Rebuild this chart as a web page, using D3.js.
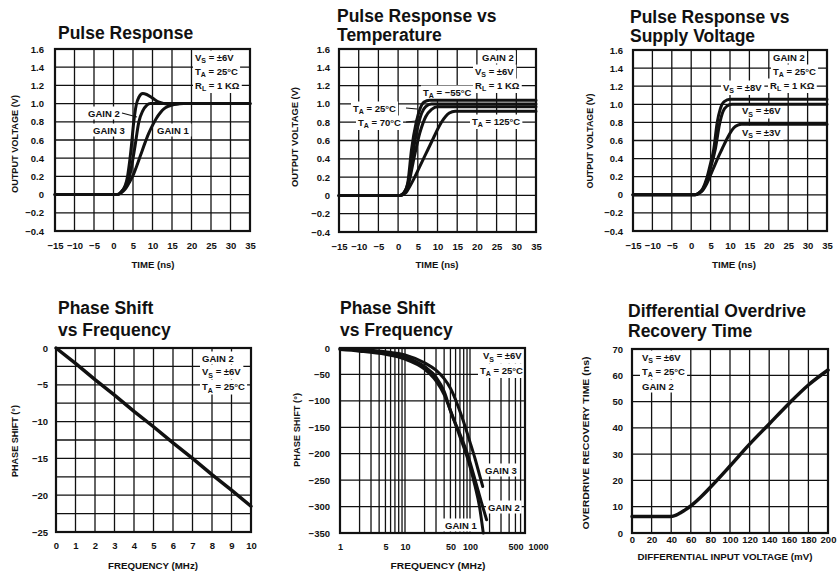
<!DOCTYPE html>
<html>
<head>
<meta charset="utf-8">
<script src="https://cdn.jsdelivr.net/npm/d3@7"></script>
<style>
  html, body { margin: 0; padding: 0; background: #fff; }
  svg { display: block; }
  text { font-family: "Liberation Sans", Arial, sans-serif; font-weight: 700; fill: #111; }
</style>
</head>
<body>
<script>
"use strict";

// ---------- Data ----------
// Pulse response panels (time in ns, output in V)
let pulseTimeTicks = [-15, -10, -5, 0, 5, 10, 15, 20, 25, 30, 35];
let pulseVoltTicks = [-0.4, -0.2, 0, 0.2, 0.4, 0.6, 0.8, 1.0, 1.2, 1.4, 1.6];

let pulseGain1 = [[-15,0],[1,0],[2,0.02],[3,0.06],[4,0.13],[5,0.21],[6,0.32],[7,0.44],[8,0.56],[9,0.67],[10,0.76],[11,0.84],[12,0.9],[13,0.945],[14,0.97],[15,0.985],[17,0.998],[18,1.0],[35,1.0]];
let pulseGain2 = [[-15,0],[1,0],[2,0.03],[3,0.09],[4.1,0.2],[5.4,0.5],[6.5,0.8],[7.5,0.92],[8.5,0.98],[9.5,1.0],[35,1.0]];
let pulseGain3 = [[-15,0],[1,0],[2,0.03],[3,0.1],[3.6,0.2],[4.1,0.35],[4.5,0.5],[5.2,0.8],[5.8,0.98],[6.5,1.07],[7.5,1.11],[8.5,1.1],[10,1.06],[11.5,1.02],[13,1.0],[15,0.99],[17,1.0],[35,1.0]];

let tempM55 = [[-15,0],[0.5,0],[1.5,0.03],[2.5,0.15],[3.4,0.5],[4.6,0.8],[5.6,0.95],[6.6,1.02],[8,1.04],[35,1.04]];
let temp25  = [[-15,0],[0.5,0],[1.5,0.03],[2.5,0.13],[3.7,0.45],[5,0.75],[6,0.9],[7,0.97],[8.5,1.0],[35,1.0]];
let temp70  = [[-15,0],[0.5,0],[1.5,0.02],[2.5,0.1],[4,0.4],[5.5,0.68],[7,0.86],[8.5,0.94],[10,0.97],[35,0.97]];
let temp125 = [[-15,0],[0.5,0],[2,0.03],[3,0.1],[4,0.18],[5,0.27],[6,0.36],[7,0.45],[8,0.54],[9,0.63],[10,0.72],[11,0.8],[12,0.86],[13,0.9],[14.5,0.92],[35,0.92]];

let supply8 = [[-15,0],[1,0],[2,0.02],[3,0.07],[4,0.18],[5,0.35],[5.8,0.5],[6.7,0.8],[7.5,0.95],[8.5,1.03],[10,1.055],[35,1.055]];
let supply6 = [[-15,0],[1,0],[2,0.02],[3,0.06],[4,0.16],[5,0.3],[6.2,0.5],[7.3,0.78],[8.2,0.92],[9.2,0.98],[10.5,1.0],[35,1.0]];
let supply3 = [[-15,0],[1,0],[2,0.015],[3,0.05],[4,0.12],[5,0.22],[6,0.32],[7,0.42],[8,0.51],[9,0.6],[10,0.68],[11,0.74],[12,0.77],[13,0.78],[35,0.78]];

// Phase shift, linear frequency (MHz, degrees)
let linFreqTicks = [0, 1, 2, 3, 4, 5, 6, 7, 8, 9, 10];
let linPhaseTicks = [0, -5, -10, -15, -20, -25];
let linPhaseGrid = [0, -2.5, -5, -7.5, -10, -12.5, -15, -17.5, -20, -22.5, -25];
let linPhase = [[0,0],[1,-2.1],[2,-4.3],[3,-6.4],[4,-8.6],[5,-10.7],[6,-12.9],[7,-15.0],[8,-17.2],[9,-19.3],[10,-21.5]];

// Phase shift, log frequency (MHz, degrees)
let logFreqTicks = [1, 5, 10, 50, 100, 500, 1000];
let logFreqGrid = [1,2,3,4,5,6,7,8,9,10,20,30,40,50,60,70,80,90,100,200,300,400,500,600];
let logPhaseTicks = [0, -50, -100, -150, -200, -250, -300, -350];
let logGain1 = [[1,-3],[2,-6],[5,-12],[10,-21],[20,-40],[30,-62],[40,-88],[50,-118],[70,-168],[94,-213],[120,-262],[140,-300],[160,-350]];
let logGain2 = [[1,-2],[2,-4],[5,-9],[10,-17],[20,-35],[30,-55],[40,-82],[52,-125],[70,-163],[94,-205],[120,-250],[150,-292],[180,-325]];
let logGain3 = [[1,-1],[2,-3],[5,-7],[10,-13],[20,-28],[30,-42],[40,-58],[50,-76],[75,-130],[100,-178],[120,-210],[140,-240],[157,-262]];

// Differential overdrive recovery (mV, ns)
let odVoltTicks = [0, 20, 40, 60, 80, 100, 120, 140, 160, 180, 200];
let odTimeTicks = [0, 10, 20, 30, 40, 50, 60, 70];
let overdrive = [[0,6.3],[20,6.3],[40,6.3],[45,6.8],[50,7.8],[55,9],[60,10.3],[70,13.6],[80,17.4],[100,25.5],[120,33.8],[140,41.5],[160,49.2],[180,56.3],[200,62]];

// ---------- Canvas ----------
let svg = d3.select("body").append("svg")
  .attr("width", 838)
  .attr("height", 572);

let voltFmt = function(d){ return d === 0 ? "0" : d3.format(".1f")(d); };
let intFmt = d3.format("d");

function addNote(layer, x, y, str) {
  // "V_S" style -> subscript letter
  let t = layer.append("text").attr("x", x).attr("y", y).attr("font-size", 9.5);
  let parts = str.split(/_(.)/);
  parts.forEach(function(s, i){
    if (i % 2 === 1) t.append("tspan").attr("dy", 2.5).attr("font-size", 7).text(s);
    else t.append("tspan").attr("dy", i ? -2.5 : 0).text(s);
  });
  let b = t.node().getBBox();
  layer.insert("rect", function(){ return t.node(); })
    .attr("x", b.x - 2).attr("y", b.y - 1)
    .attr("width", b.width + 4).attr("height", b.height + 2)
    .attr("fill", "#fff");
}

function drawPanel(p) {
  let x = p.x.range(p.xRange || [p.l, p.r]);
  let y = p.y.range([p.b, p.t]);
  let g = svg.append("g");
  let grid = g.append("g"), notes = g.append("g"), marks = g.append("g");

  // grid lines (only those inside the frame)
  let xg = p.xGrid.filter(function(d){ return x(d) <= p.r + 0.5; });
  grid.selectAll(".v").data(xg).enter().append("line")
    .attr("x1", function(d){ return x(d); }).attr("x2", function(d){ return x(d); })
    .attr("y1", p.t).attr("y2", p.b)
    .attr("stroke", "#111").attr("stroke-width", 1.3);
  grid.selectAll(".h").data(p.yGrid).enter().append("line")
    .attr("y1", function(d){ return y(d); }).attr("y2", function(d){ return y(d); })
    .attr("x1", p.l).attr("x2", p.r)
    .attr("stroke", "#111").attr("stroke-width", 1.3);

  // tick labels
  let ax = g.append("g").attr("transform", "translate(0," + p.b + ")")
    .call(d3.axisBottom(x).tickValues(p.xTicks).tickFormat(p.xFmt).tickSize(0).tickPadding(p.xPad));
  ax.select(".domain").remove();
  ax.attr("font-size", p.xFont || 9.5);
  let ay = g.append("g").attr("transform", "translate(" + p.l + ",0)")
    .call(d3.axisLeft(y).tickValues(p.yTicks).tickFormat(p.yFmt).tickSize(0).tickPadding(p.yPad));
  ay.select(".domain").remove();
  ay.attr("font-size", 9.5);
  if (p.lastDx) ax.selectAll(".tick:last-of-type text").attr("dx", p.lastDx);

  // annotations
  p.notes.forEach(function(n){ addNote(notes, n[0], n[1], n[2]); });
  (p.leaders || []).forEach(function(s){
    notes.append("line").attr("x1", s[0]).attr("y1", s[1]).attr("x2", s[2]).attr("y2", s[3])
      .attr("stroke", "#111").attr("stroke-width", 1.2);
  });

  // curves
  let line = d3.line()
    .x(function(d){ return x(d[0]); })
    .y(function(d){ return y(d[1]); })
    .curve(p.curve || d3.curveMonotoneX);
  p.series.forEach(function(s){
    marks.append("path").attr("d", line(s))
      .attr("fill", "none").attr("stroke", "#111")
      .attr("stroke-width", p.lw || 3).attr("stroke-linejoin", "round").attr("stroke-linecap", "round");
  });

  // frame
  g.append("rect").attr("x", p.l).attr("y", p.t)
    .attr("width", p.r - p.l).attr("height", p.b - p.t)
    .attr("fill", "none").attr("stroke", "#111").attr("stroke-width", 2.2);

  // titles
  p.title.forEach(function(tl, i){
    g.append("text").attr("x", p.titleX).attr("y", p.titleY[i]).attr("font-size", 17.5).text(tl);
  });

  // axis titles
  g.append("text").attr("x", p.xt[0]).attr("y", p.xt[1])
    .attr("text-anchor", "middle").attr("font-size", 9)
    .attr("textLength", p.xt[2]).attr("lengthAdjust", "spacingAndGlyphs")
    .text(p.xLabel);
  g.append("text")
    .attr("transform", "translate(" + p.yt[0] + "," + p.yt[1] + ") rotate(-90)")
    .attr("text-anchor", "middle").attr("dy", "0.35em").attr("font-size", 9)
    .attr("textLength", p.yt[2]).attr("lengthAdjust", "spacingAndGlyphs")
    .text(p.yLabel);
}

// ---------- Panels ----------
drawPanel({
  l: 55, r: 250, t: 49, b: 231,
  x: d3.scaleLinear().domain([-15, 35]), y: d3.scaleLinear().domain([-0.4, 1.6]),
  xGrid: pulseTimeTicks, yGrid: pulseVoltTicks, xTicks: pulseTimeTicks, yTicks: pulseVoltTicks,
  xFmt: intFmt, yFmt: voltFmt, xPad: 11, yPad: 11,
  series: [pulseGain1, pulseGain2, pulseGain3],
  notes: [[195, 60.5, "V_S = ±6V"], [195, 74.5, "T_A = 25°C"], [195, 88.5, "R_L = 1 KΩ"],
          [88, 116.5, "GAIN 2"], [93, 133.5, "GAIN 3"], [157, 133.5, "GAIN 1"]],
  leaders: [[122, 113, 137, 117]],
  title: ["Pulse Response"], titleX: 58, titleY: [39],
  xLabel: "TIME (ns)", xt: [153, 268, 43],
  yLabel: "OUTPUT VOLTAGE (V)", yt: [15, 144, 98]
});

drawPanel({
  l: 339, r: 536, t: 49, b: 232,
  x: d3.scaleLinear().domain([-15, 35]), y: d3.scaleLinear().domain([-0.4, 1.6]),
  xGrid: pulseTimeTicks, yGrid: pulseVoltTicks, xTicks: pulseTimeTicks, yTicks: pulseVoltTicks,
  xFmt: intFmt, yFmt: voltFmt, xPad: 11, yPad: 9,
  series: [tempM55, temp25, temp70, temp125],
  notes: [[482, 60.5, "GAIN 2"], [475, 74.5, "V_S = ±6V"], [475, 88.5, "R_L = 1 KΩ"],
          [423, 95.5, "T_A = −55°C"], [353, 111.5, "T_A = 25°C"], [358, 125.5, "T_A = 70°C"],
          [472, 124.5, "T_A = 125°C"]],
  leaders: [[406, 108, 417, 109], [406, 122, 416, 121]],
  title: ["Pulse Response vs", "Temperature"], titleX: 337, titleY: [22, 41],
  xLabel: "TIME (ns)", xt: [437, 268, 43],
  yLabel: "OUTPUT VOLTAGE (V)", yt: [295, 137, 100]
});

drawPanel({
  l: 633, r: 827, t: 50, b: 231,
  x: d3.scaleLinear().domain([-15, 35]), y: d3.scaleLinear().domain([-0.4, 1.6]),
  xGrid: pulseTimeTicks, yGrid: pulseVoltTicks, xTicks: pulseTimeTicks, yTicks: pulseVoltTicks,
  xFmt: intFmt, yFmt: voltFmt, xPad: 11, yPad: 10,
  series: [supply8, supply6, supply3],
  notes: [[773, 60.5, "GAIN 2"], [773, 74.5, "T_A = 25°C"], [770, 88.5, "R_L = 1 KΩ"],
          [723, 90.5, "V_S = ±8V"], [742, 114, "V_S = ±6V"], [742, 135.5, "V_S = ±3V"]],
  title: ["Pulse Response vs", "Supply Voltage"], titleX: 630, titleY: [23, 42],
  xLabel: "TIME (ns)", xt: [734, 268, 44],
  yLabel: "OUTPUT VOLTAGE (V)", yt: [590, 141, 95]
});

drawPanel({
  l: 56, r: 251, t: 348, b: 532,
  x: d3.scaleLinear().domain([0, 10]), y: d3.scaleLinear().domain([-25, 0]),
  xGrid: linFreqTicks, yGrid: linPhaseGrid, xTicks: linFreqTicks, yTicks: linPhaseTicks,
  xFmt: intFmt, yFmt: intFmt, xPad: 10.5, yPad: 8,
  series: [linPhase], curve: d3.curveLinear, lw: 3.5,
  notes: [[202, 361.5, "GAIN 2"], [202, 375, "V_S = ±6V"], [202, 390, "T_A = 25°C"]],
  title: ["Phase Shift", "vs Frequency"], titleX: 58, titleY: [314, 336],
  xLabel: "FREQUENCY (MHz)", xt: [153, 569, 90],
  yLabel: "PHASE SHIFT (°)", yt: [15, 441, 72]
});

// the log axis of the datasheet runs a little past the frame: 1000 MHz sits right of it
drawPanel({
  l: 340, r: 525, t: 348, b: 533, xRange: [340, 535],
  x: d3.scaleLog().domain([1, 1000]), y: d3.scaleLinear().domain([-350, 0]),
  xGrid: logFreqGrid, yGrid: logPhaseTicks, xTicks: logFreqTicks, yTicks: logPhaseTicks,
  xFmt: intFmt, yFmt: intFmt, xPad: 10.5, yPad: 10, xFont: 9, lastDx: 3,
  series: [logGain1, logGain2, logGain3],
  notes: [[483, 359, "V_S = ±6V"], [480, 373.5, "T_A = 25°C"],
          [485, 473.5, "GAIN 3"], [488, 510.5, "GAIN 2"], [445, 528.5, "GAIN 1"]],
  title: ["Phase Shift", "vs Frequency"], titleX: 340, titleY: [314, 336],
  xLabel: "FREQUENCY (MHz)", xt: [438, 569, 95],
  yLabel: "PHASE SHIFT (°)", yt: [297, 430, 74]
});

drawPanel({
  l: 632, r: 828, t: 349, b: 533,
  x: d3.scaleLinear().domain([0, 200]), y: d3.scaleLinear().domain([0, 70]),
  xGrid: odVoltTicks, yGrid: odTimeTicks, xTicks: odVoltTicks, yTicks: odTimeTicks,
  xFmt: intFmt, yFmt: intFmt, xPad: 3, yPad: 9, lw: 3.5,
  series: [overdrive],
  notes: [[642, 360.5, "V_S = ±6V"], [642, 374.5, "T_A = 25°C"], [642, 389.5, "GAIN 2"]],
  title: ["Differential Overdrive", "Recovery Time"], titleX: 628, titleY: [317, 337],
  xLabel: "DIFFERENTIAL INPUT VOLTAGE (mV)", xt: [725, 560, 175],
  yLabel: "OVERDRIVE RECOVERY TIME (ns)", yt: [586, 443, 173]
});
</script>
</body>
</html>
